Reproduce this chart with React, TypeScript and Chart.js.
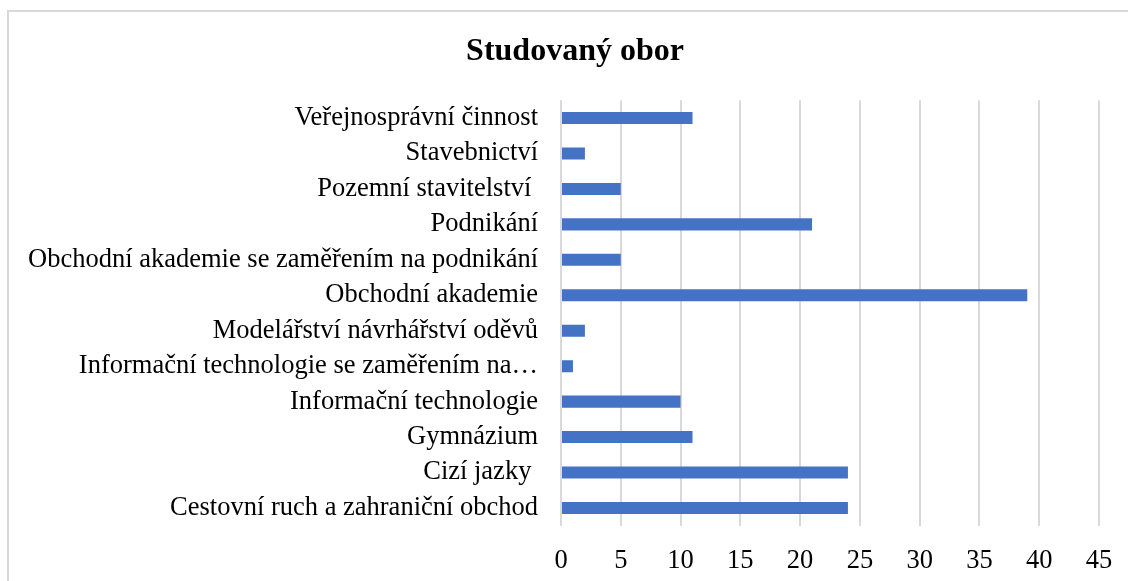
import React, { useEffect, useRef } from "react";
import { Chart, registerables } from "chart.js";

Chart.register(...registerables);

const categories: string[] = [
  "Veřejnosprávní činnost",
  "Stavebnictví",
  "Pozemní stavitelství ",
  "Podnikání",
  "Obchodní akademie se zaměřením na podnikání",
  "Obchodní akademie",
  "Modelářství návrhářství oděvů",
  "Informační technologie se zaměřením na…",
  "Informační technologie",
  "Gymnázium",
  "Cizí jazky ",
  "Cestovní ruch a zahraniční obchod",
];

const counts: number[] = [11, 2, 5, 21, 5, 39, 2, 1, 10, 11, 24, 24];

const chartTitle = "Studovaný obor";
const xMin = 0;
const xMax = 45;
const xStep = 5;

const FONT = "'Liberation Serif', 'Times New Roman', serif";

const unclipLabels = {
  id: "unclipLabels",
  afterLayout(chart: any) {
    if (chart.scales.y) chart.scales.y.left = 0;
  },
};

export default function App() {
  const ref = useRef<HTMLCanvasElement | null>(null);

  useEffect(() => {
    if (!ref.current) return;
    const chart = new Chart(ref.current, {
      type: "bar",
      data: {
        labels: categories,
        datasets: [
          {
            data: counts,
            backgroundColor: "#4472C4",
            borderWidth: 0,
            barPercentage: 0.68,
            categoryPercentage: 0.5,
          },
        ],
      },
      plugins: [unclipLabels],
      options: {
        indexAxis: "y",
        animation: false,
        responsive: false,
        maintainAspectRatio: false,
        layout: { padding: { left: 42, right: 29, top: 0, bottom: 0 } },
        plugins: {
          legend: { display: false },
          tooltip: { enabled: false },
          title: {
            display: true,
            text: chartTitle,
            color: "#000",
            font: { family: FONT, size: 32, weight: "bold" },
            padding: { top: 20.5, bottom: 29.4 },
          },
        },
        scales: {
          x: {
            min: xMin,
            max: xMax,
            ticks: {
              stepSize: xStep,
              color: "#000",
              font: { family: FONT, size: 26.5 },
              padding: 19,
            },
            grid: {
              color: "#d9d9d9",
              lineWidth: 2,
              drawTicks: false,
            },
            border: { display: false },
            afterFit: (scale: any) => {
              scale.height = 55.3;
              scale.paddingLeft = 0;
              scale.paddingRight = 0;
            },
          },
          y: {
            ticks: {
              color: "#000",
              font: { family: FONT, size: 26.5 },
              padding: 23,
              autoSkip: false,
            },
            grid: { display: false, drawTicks: false },
            border: { display: false },
            afterFit: (scale: any) => {
              scale.width = 510;
            },
          },
        },
      },
    });
    return () => chart.destroy();
  }, []);

  return (
    <div
      style={{
        position: "absolute",
        left: 7,
        top: 10,
        width: 1140,
        height: 600,
        borderLeft: "2px solid #d9d9d9",
        borderTop: "2px solid #d9d9d9",
        background: "#fff",
      }}
    >
      <canvas ref={ref} width={1119} height={569} style={{ display: "block" }} />
    </div>
  );
}
